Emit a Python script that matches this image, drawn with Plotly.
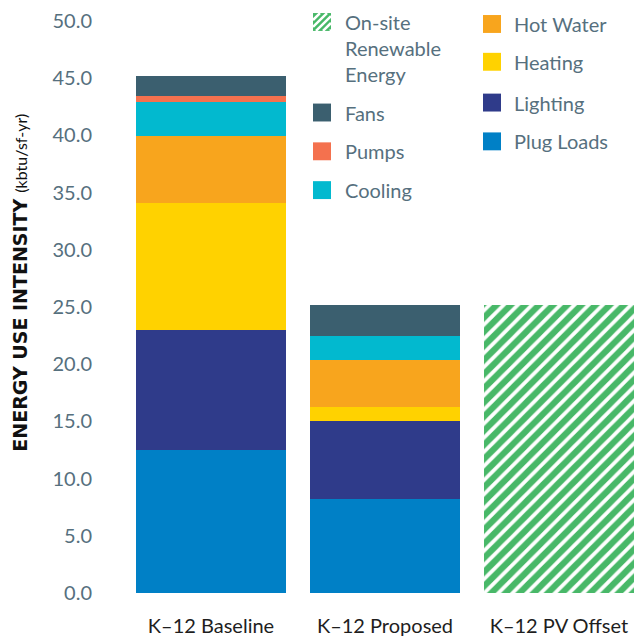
import plotly.graph_objects as go

# Building types on the x axis
categories = ["K–12 Baseline", "K–12 Proposed", "K–12 PV Offset"]

# End-use energy intensity, kbtu/sf-yr (bottom of stack first)
plug_loads = [12.5, 8.25, None]
lighting = [10.45, 6.8, None]
heating = [11.1, 1.2, None]
hot_water = [5.9, 4.1, None]
cooling = [3.0, 2.1, None]
pumps = [0.5, None, None]
fans = [1.7, 2.75, None]
renewable = [None, None, 25.2]

y_ticks = [0, 5, 10, 15, 20, 25, 30, 35, 40, 45, 50]

series = [
    ("Plug Loads", plug_loads, "#0080c6"),
    ("Lighting", lighting, "#2f3b8a"),
    ("Heating", heating, "#ffd200"),
    ("Hot Water", hot_water, "#f8a51d"),
    ("Cooling", cooling, "#02b9cf"),
    ("Pumps", pumps, "#f4714e"),
    ("Fans", fans, "#3b5f6f"),
]
GREEN = "#48b868"
FONT = "Lato"
TEXT_GREY = "#56707e"

fig = go.Figure()
for name, vals, color in series:
    fig.add_trace(go.Bar(
        x=categories, y=vals, name=name,
        marker=dict(color=color, line=dict(width=0)),
        showlegend=False,
    ))
fig.add_trace(go.Bar(
    x=categories, y=renewable, name="On-site Renewable Energy",
    marker=dict(color="white", line=dict(width=0),
                pattern=dict(shape="/", fgcolor=GREEN, bgcolor="white",
                             size=10, solidity=0.62, fillmode="replace")),
    showlegend=False,
))

# Plot-area geometry in pixels (used to place the hand-built legend)
W, H = 642, 639
L, R, T, B = 130, 640, 21, 596


def px(x):
    return (x - L) / (R - L)


def py(y):
    return (B - y) / (B - T)


shapes = []
annotations = []

# Legend: two columns of swatch + label
left_col = [("On-site<br>Renewable<br>Energy", None, 22),
            ("Fans", "#3b5f6f", 113),
            ("Pumps", "#f4714e", 152),
            ("Cooling", "#02b9cf", 191)]
right_col = [("Hot Water", "#f8a51d", 24),
             ("Heating", "#ffd200", 62),
             ("Lighting", "#2f3b8a", 103),
             ("Plug Loads", "#0080c6", 142)]

SW = 18
for cols, sx, tx in ((left_col, 313, 343), (right_col, 483, 512)):
    for label, color, cy in cols:
        x0, x1 = sx, sx + SW
        y0, y1 = cy - SW / 2, cy + SW / 2
        if color is None:
            shapes.append(dict(type="rect", xref="paper", yref="paper",
                               x0=px(x0), x1=px(x1), y0=py(y1), y1=py(y0),
                               fillcolor=GREEN, line=dict(width=0), layer="above"))
            # white diagonal stripes across the swatch
            segs = []
            for k in range(-SW, SW, 7):
                pts = []
                for t in range(0, SW + 1):
                    xx = x0 + t
                    yy = y1 - (t - k)
                    if y0 <= yy <= y1:
                        pts.append((xx, yy))
                if len(pts) >= 2:
                    (ax, ay), (bx, by) = pts[0], pts[-1]
                    segs.append(f"M{px(ax)},{py(ay)} L{px(bx)},{py(by)}")
            shapes.append(dict(type="path", xref="paper", yref="paper",
                               path=" ".join(segs),
                               line=dict(color="white", width=2.5), layer="above"))
            annotations.append(dict(xref="paper", yref="paper", x=px(tx), y=py(cy - 14),
                                    text=label, showarrow=False, xanchor="left",
                                    yanchor="top", align="left",
                                    font=dict(family=FONT, size=20, color=TEXT_GREY)))
        else:
            shapes.append(dict(type="rect", xref="paper", yref="paper",
                               x0=px(x0), x1=px(x1), y0=py(y1), y1=py(y0),
                               fillcolor=color, line=dict(width=0), layer="above"))
            annotations.append(dict(xref="paper", yref="paper", x=px(tx), y=py(cy),
                                    text=label, showarrow=False, xanchor="left",
                                    yanchor="middle",
                                    font=dict(family=FONT, size=20, color=TEXT_GREY)))

# Y-axis title
annotations.append(dict(
    xref="paper", yref="paper", x=px(20), y=py(456),
    text="<b>ENERGY USE INTENSITY</b> "
         "<span style='font-family:Lato;font-size:16px'>(kbtu/sf-yr)</span>",
    showarrow=False, textangle=-90, xanchor="center", yanchor="bottom",
    font=dict(family="DejaVu Sans", size=19, color="#111111"),
))

fig.update_layout(
    width=W, height=H,
    margin=dict(l=L, r=W - R, t=T, b=H - B, pad=0),
    barmode="stack", bargap=0.138,
    plot_bgcolor="white", paper_bgcolor="white",
    showlegend=False,
    shapes=shapes, annotations=annotations,
    font=dict(family=FONT),
)
fig.update_xaxes(
    range=[-0.4655, 2.466], showgrid=False, zeroline=False, showline=False,
    ticks="", ticklabelstandoff=19,
    tickfont=dict(family=FONT, size=20, color="#1e1e1e"),
)
fig.update_yaxes(
    range=[0, 50], tickvals=y_ticks, tickformat=".1f",
    showgrid=False, zeroline=False, showline=False, ticks="",
    ticklabelstandoff=37,
    tickfont=dict(family=FONT, size=20, color=TEXT_GREY),
)

fig.write_html("out.html")
